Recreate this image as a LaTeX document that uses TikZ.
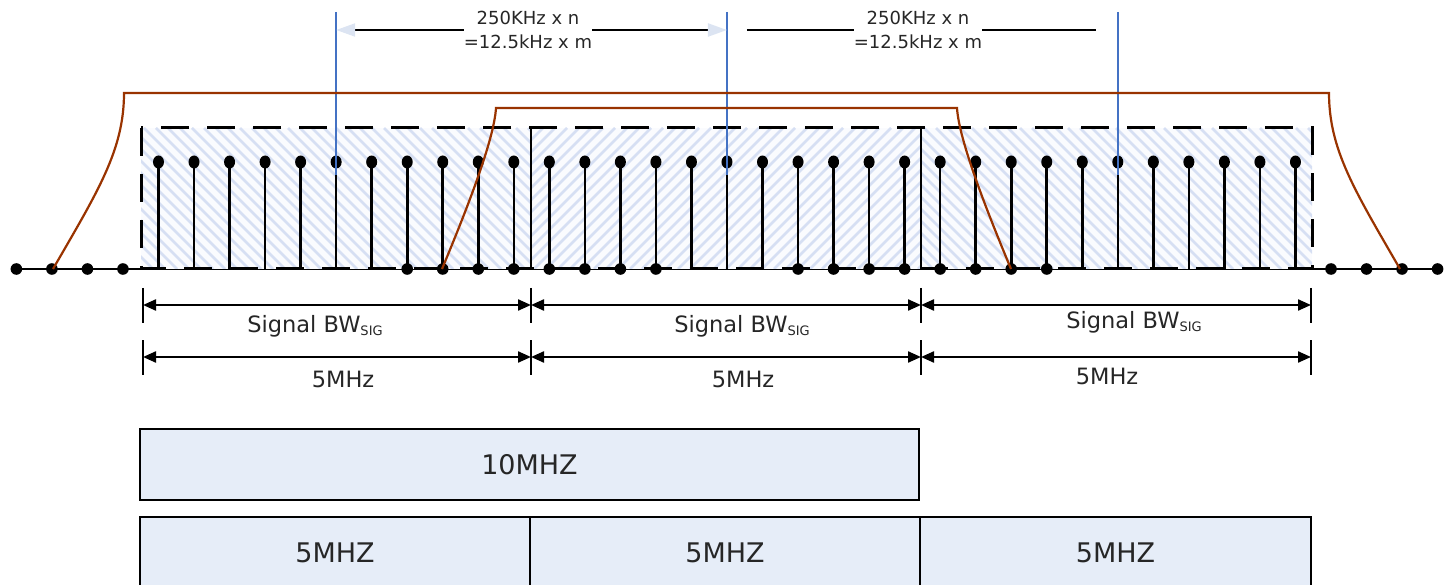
\documentclass[tikz,border=0pt]{standalone}
\usepackage{fontspec}
\setmainfont{DejaVu Sans}
\usetikzlibrary{positioning, calc, arrows.meta}

\definecolor{brownline}{HTML}{993300}
\definecolor{blueline}{HTML}{4472C4}
\definecolor{hatchblue}{HTML}{D6DFF3}
\definecolor{hatchbg}{HTML}{FAFBFE}
\definecolor{boxfill}{HTML}{E6EDF8}
\definecolor{paletip}{HTML}{DCE4F2}

\tikzset{
    stemline/.style={line width=2.6pt},
    hatch/.style={hatchblue, line width=2.8pt},
    envelope/.style={brownline, line width=2.2pt},
    marker/.style={blueline, line width=2.4pt},
    noteline/.style={line width=2.2pt},
    note/.style={align=center, inner sep=0pt, text=black!85, font=\fontsize{18}{24}\selectfont},
    dimline/.style={line width=2.2pt, {Triangle[length=13pt,width=11pt]}-{Triangle[length=13pt,width=11pt]}},
    dimtick/.style={line width=2.2pt},
    lbl/.style={inner sep=0pt, text=black!85, font=\fontsize{22.5}{24}\selectfont},
    bandbox/.style={draw, line width=2.5pt, fill=boxfill, outer sep=0pt, anchor=north west,
        minimum height=72pt, text=black!85, font=\fontsize{27}{30}\selectfont},
}

\begin{document}
\begin{tikzpicture}[x=1pt, y=-1pt]
        \clip (0,0) rectangle (1451,585);

        \def\xo{158.5}
        \def\dx{35.53}
        \def\yb{269}
        \def\yd{162}

        % ===================================================
        % Axis with hatched signal bands
        % ===================================================
        \draw[line width=2.6pt] (15,\yb) -- (1438,\yb);
        \fill[hatchbg] (141,128) rectangle (1312,\yb);
        \foreach \xa/\xb/\dir in {141/531/1, 531/921/-1, 921/1312/1} {
            \begin{scope}
                \clip (\xa,128) rectangle (\xb,\yb);
                \foreach \s in {0,12,...,552}
                    \draw[hatch] ({\xa+\s-141},{198.5-\dir*70.5}) -- ++(141,{\dir*141});
            \end{scope}
        }
        \draw[line width=3pt, dash pattern=on 28pt off 18pt] (141,128) rectangle (1312,\yb);
        \draw[line width=2.6pt] (531,128) -- (531,\yb);
        \draw[line width=2.6pt] (921,128) -- (921,\yb);

        % ===================================================
        % Subcarriers
        % ===================================================
        \foreach \i in {0,...,32} {
            \pgfmathsetmacro\sx{\xo+\dx*\i}
            \draw[stemline] (\sx,\yb) -- (\sx,\yd);
            \fill (\sx,\yd) ellipse (5.5 and 6.5);
        }
        \foreach \i in {-4,...,-1,7,8,...,14,18,19,...,25,33,34,...,36} {
            \pgfmathsetmacro\sx{\xo+\dx*\i}
            \fill (\sx,\yb) circle (5.8);
        }

        % ===================================================
        % Channel markers
        % ===================================================
        \coordinate (mkA) at ({\xo+\dx*5}, 12);
        \coordinate (mkB) at ({\xo+\dx*16}, 12);
        \coordinate (mkC) at ({\xo+\dx*27}, 12);
        \foreach \m in {mkA, mkB, mkC}
            \draw[marker] (\m) -- ++(0,163);

        % ===================================================
        % Filter envelopes
        % ===================================================
        \draw[envelope] (53,\yb) .. controls (98,191) and (124,150) .. (124,93)
            -- (1329,93) .. controls (1329,150) and (1355,191) .. (1400,\yb);
        \draw[envelope] (442,\yb) .. controls (467,209) and (494,140) .. (496,108)
            -- (957,108) .. controls (959,140) and (986,209) .. (1011,\yb);

        % ===================================================
        % Channel spacing notes
        % ===================================================
        \node[note] (noteA) at (528,30) {250KHz x n\\=12.5kHz x m};
        \draw[noteline, {Triangle[length=19pt,width=13pt,color=paletip]}-] (mkA |- noteA) -- (noteA.west);
        \draw[noteline, -{Triangle[length=19pt,width=13pt,color=paletip]}] (noteA.east) -- (mkB |- noteA);
        \node[note] (noteB) at (918,30) {250KHz x n\\=12.5kHz x m};
        \draw[noteline, shorten <=20pt] (mkB |- noteB) -- (noteB.west);
        \draw[noteline, shorten >=22pt] (noteB.east) -- (mkC |- noteB);

        % ===================================================
        % Bandwidth dimensions
        % ===================================================
        \foreach \x [count=\k] in {143,531,921,1311} {
            \draw[dimtick] (\x,288) -- (\x,323);
            \draw[dimtick] (\x,340) -- (\x,375);
            \coordinate (ta\k) at (\x,305);
            \coordinate (tb\k) at (\x,357);
        }
        \draw[dimline] (ta1) -- (ta2);
        \draw[dimline] (ta2) -- (ta3);
        \draw[dimline] (ta3) -- (ta4);
        \draw[dimline] (tb1) -- (tb2);
        \draw[dimline] (tb2) -- (tb3);
        \draw[dimline] (tb3) -- (tb4);

        \node[lbl] (sigA) at (315,326) {Signal BW\raisebox{-3pt}{\fontsize{13}{13}\selectfont SIG}};
        \node[lbl] (sigB) at (742,326) {Signal BW\raisebox{-3pt}{\fontsize{13}{13}\selectfont SIG}};
        \node[lbl] (sigC) at (1134,322) {Signal BW\raisebox{-3pt}{\fontsize{13}{13}\selectfont SIG}};
        \node[lbl] (bwA) at (343,379) {5MHz};
        \node[lbl] (bwB) at (743,379) {5MHz};
        \node[lbl] (bwC) at (1107,376) {5MHz};

        % ===================================================
        % Channel bandwidth boxes
        % ===================================================
        \node[bandbox, minimum width=779pt, minimum height=71pt] (bw10) at (140,429) {10MHZ};
        \node[bandbox, minimum width=390pt] (bw5a) at (140,517) {5MHZ};
        \node[bandbox, minimum width=390pt] (bw5b) at (bw5a.north east) {5MHZ};
        \node[bandbox, minimum width=391pt] (bw5c) at (bw5b.north east) {5MHZ};

\end{tikzpicture}
\end{document}
